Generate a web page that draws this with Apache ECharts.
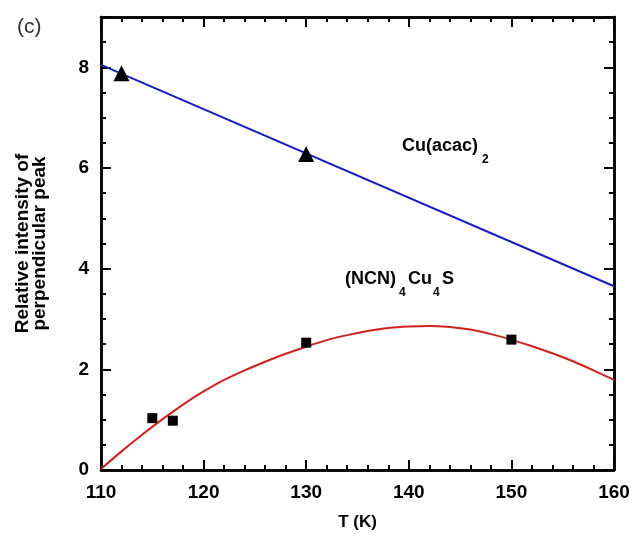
<!DOCTYPE html>
<html>
<head>
<meta charset="utf-8">
<script src="https://cdn.jsdelivr.net/npm/echarts@6/dist/echarts.min.js"></script>
<style>
  html, body { margin: 0; padding: 0; background: #fff; }
  #chart { width: 636px; height: 550px; }
</style>
</head>
<body>
<div id="chart"></div>
<script>
// Axis ranges and tick spacing
const tempRange = [110, 160];
const intensityRange = [0, 9];
const tempMajorStep = 10;
const tempMinorStep = 2;
const intensityMajorStep = 2;
const intensityMinorStep = 0.5;

// Cu(acac)2: linear fit and measured points
const cuAcacFitT = [110, 160];
const cuAcacFitI = [8.05, 3.65];
const cuAcacT = [112, 130];
const cuAcacI = [7.88, 6.28];

// (NCN)4Cu4S: fitted curve and measured points
const ncnFitT = [110, 112, 114, 116, 118, 120, 122, 124, 126, 128, 130, 132, 134,
                 136, 138, 140, 142, 144, 146, 148, 150, 152, 154, 156, 158, 160];
const ncnFitI = [0.02, 0.37, 0.70, 1.01, 1.30, 1.56, 1.79, 1.98, 2.15, 2.31, 2.45, 2.58, 2.68,
                 2.76, 2.82, 2.85, 2.86, 2.84, 2.79, 2.70, 2.59, 2.46, 2.32, 2.16, 1.98, 1.79];
const ncnT = [115, 117, 130, 150];
const ncnI = [1.03, 0.98, 2.53, 2.59];

const FONT = "'Liberation Sans', Arial, Helvetica, sans-serif";
const INK = '#000';
const BLUE = '#1c1cc4';
const RED = '#d21f1f';

const zip = (xs, ys) => xs.map((x, i) => [x, ys[i]]);

const gridBox = { left: 101, right: 22, top: 17, bottom: 80 };

function frameAxis(opts) {
  return Object.assign({
    type: 'value',
    axisLine: { show: true, onZero: false, lineStyle: { color: INK, width: 2.5 } },
    axisTick: { show: true, inside: true, length: 5, lineStyle: { color: INK, width: 2 } },
    axisLabel: { show: false },
    splitLine: { show: false }
  }, opts);
}

const majorTick = { show: true, inside: true, length: 10, lineStyle: { color: INK, width: 2 } };

const xAxes = [
  // minor ticks (grid 0)
  frameAxis({ gridIndex: 0, position: 'bottom', min: tempRange[0], max: tempRange[1], interval: tempMinorStep }),
  frameAxis({ gridIndex: 0, position: 'top', min: tempRange[0], max: tempRange[1], interval: tempMinorStep }),
  // major ticks and labels (grid 1)
  frameAxis({
    gridIndex: 1, position: 'bottom', min: tempRange[0], max: tempRange[1], interval: tempMajorStep,
    axisTick: majorTick,
    axisLabel: { show: true, margin: 13, color: INK, fontFamily: FONT, fontWeight: 'bold', fontSize: 19 },
    name: 'T (K)', nameLocation: 'middle', nameGap: 44,
    nameTextStyle: { color: INK, fontFamily: FONT, fontWeight: 'bold', fontSize: 17 }
  }),
  frameAxis({
    gridIndex: 1, position: 'top', min: tempRange[0], max: tempRange[1], interval: tempMajorStep,
    axisTick: majorTick
  })
];

const yAxes = [
  frameAxis({ gridIndex: 0, position: 'left', min: intensityRange[0], max: intensityRange[1], interval: intensityMinorStep }),
  frameAxis({ gridIndex: 0, position: 'right', min: intensityRange[0], max: intensityRange[1], interval: intensityMinorStep }),
  frameAxis({
    gridIndex: 1, position: 'left', min: intensityRange[0], max: intensityRange[1], interval: intensityMajorStep,
    axisTick: majorTick,
    axisLabel: {
      show: true, margin: 12, color: INK, fontFamily: FONT, fontWeight: 'bold', fontSize: 19,
      formatter: v => (v % intensityMajorStep === 0 ? String(v) : '')
    },
    name: 'Relative intensity of\nperpendicular peak', nameLocation: 'middle', nameGap: 53,
    nameTextStyle: { color: INK, fontFamily: FONT, fontWeight: 'bold', fontSize: 19, lineHeight: 17 }
  }),
  frameAxis({
    gridIndex: 1, position: 'right', min: intensityRange[0], max: intensityRange[1], interval: intensityMajorStep,
    axisTick: majorTick
  })
];

const boldText = (text, left, top, size) => ({
  type: 'text', left, top,
  style: { text, fill: INK, font: `bold ${size}px ${FONT}` }
});

const option = {
  animation: false,
  backgroundColor: '#fff',
  grid: [Object.assign({}, gridBox), Object.assign({}, gridBox)],
  xAxis: xAxes,
  yAxis: yAxes,
  series: [
    {
      name: 'Cu(acac)2 fit', type: 'line', xAxisIndex: 2, yAxisIndex: 2,
      data: zip(cuAcacFitT, cuAcacFitI), showSymbol: false,
      lineStyle: { color: BLUE, width: 2 }, z: 3
    },
    {
      name: 'Cu(acac)2', type: 'scatter', xAxisIndex: 2, yAxisIndex: 2,
      data: zip(cuAcacT, cuAcacI), symbol: 'triangle', symbolSize: 16,
      itemStyle: { color: INK, opacity: 1 }, z: 4
    },
    {
      name: '(NCN)4Cu4S fit', type: 'line', xAxisIndex: 2, yAxisIndex: 2,
      data: zip(ncnFitT, ncnFitI), showSymbol: false, smooth: 0.3,
      lineStyle: { color: RED, width: 2 }, z: 3
    },
    {
      name: '(NCN)4Cu4S', type: 'scatter', xAxisIndex: 2, yAxisIndex: 2,
      data: zip(ncnT, ncnI), symbol: 'rect', symbolSize: 10,
      itemStyle: { color: INK, opacity: 1 }, z: 4
    }
  ],
  graphic: [
    { type: 'text', left: 17, top: 17, style: { text: '(c)', fill: '#333', font: `21px ${FONT}` } },
    // Cu(acac)2 label
    boldText('Cu(acac)', 402, 137, 18),
    boldText('2', 482, 154, 12),
    // (NCN)4Cu4S label
    boldText('(NCN)', 345, 270, 18),
    boldText('4', 399, 287, 12),
    boldText('Cu', 408, 270, 18),
    boldText('4', 433, 287, 12),
    boldText('S', 442, 270, 18)
  ]
};

const chart = echarts.init(document.getElementById('chart'), null, { renderer: 'canvas' });
chart.setOption(option);
</script>
</body>
</html>
